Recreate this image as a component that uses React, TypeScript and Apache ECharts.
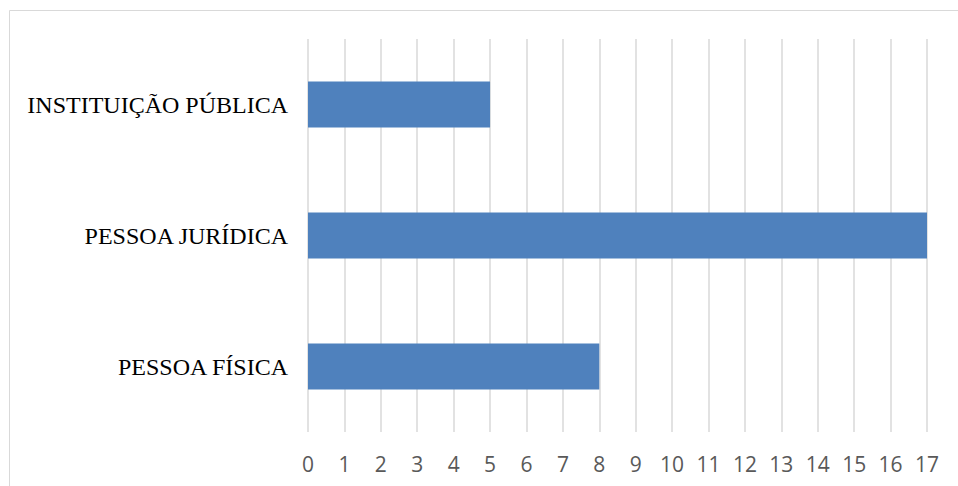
import React, { useEffect, useRef } from "react";
import * as echarts from "echarts";

const categories = ["PESSOA FÍSICA", "PESSOA JURÍDICA", "INSTITUIÇÃO PÚBLICA"];
const values = [8, 17, 5];
const axisMin = 0;
const axisMax = 17;
const axisStep = 1;

export default function App() {
  const ref = useRef<HTMLDivElement>(null);

  useEffect(() => {
    if (!ref.current) return;
    const chart = echarts.init(ref.current, undefined, { renderer: "svg" });
    chart.setOption({
      animation: false,
      backgroundColor: "#ffffff",
      graphic: [
        {
          type: "rect",
          shape: { x: 9.5, y: 10.5, width: 1000, height: 1000 },
          style: { fill: "none", stroke: "#d9d9d9", lineWidth: 1 },
          silent: true,
        },
      ],
      grid: { left: 308, right: 31, top: 39, bottom: 54, containLabel: false },
      xAxis: {
        type: "value",
        min: axisMin,
        max: axisMax,
        interval: axisStep,
        axisLine: { show: false },
        axisTick: { show: false },
        splitLine: { show: true, lineStyle: { color: "#d9d9d9", width: 1.5 } },
        axisLabel: {
          color: "#595959",
          fontFamily: "'Open Sans', 'Liberation Sans', sans-serif",
          fontSize: 21,
          margin: 21,
        },
      },
      yAxis: {
        type: "category",
        data: categories,
        axisLine: { show: false },
        axisTick: { show: false },
        splitLine: { show: false },
        axisLabel: {
          color: "#000000",
          fontFamily: "'Liberation Serif', 'Times New Roman', serif",
          fontSize: 24,
          margin: 20,
        },
      },
      series: [
        {
          type: "bar",
          data: values,
          barWidth: 46,
          itemStyle: { color: "#4f81bd" },
        },
      ],
    });
    return () => chart.dispose();
  }, []);

  return (
    <div
      ref={ref}
      style={{ position: "fixed", left: 0, top: 0, width: 958, height: 486 }}
    />
  );
}
